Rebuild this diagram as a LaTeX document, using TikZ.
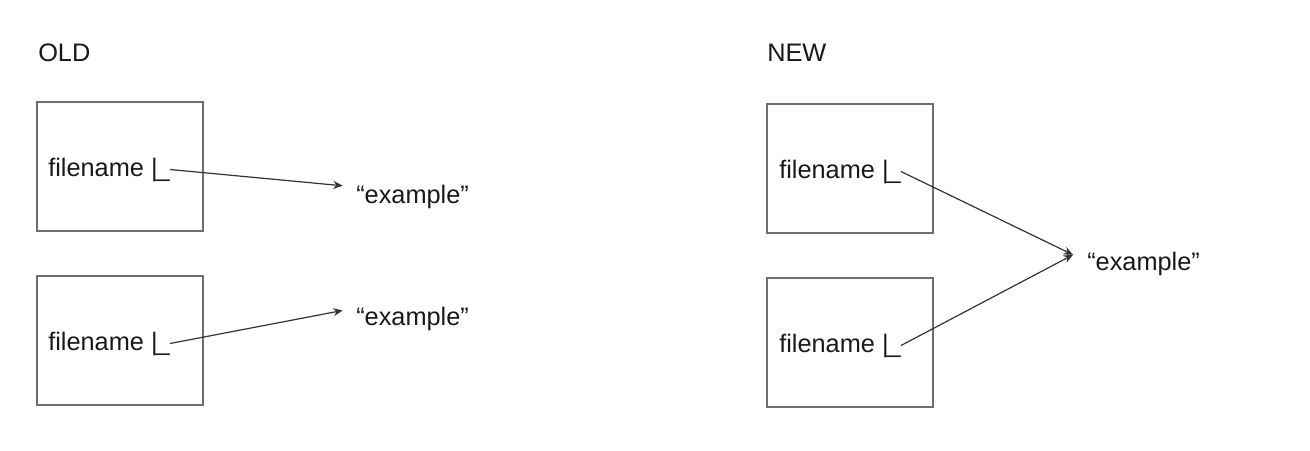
\documentclass[tikz,border=0pt]{standalone}
\usepackage{fontspec}
\setmainfont{Liberation Sans}
\usetikzlibrary{arrows.meta}
\definecolor{boxgray}{HTML}{6E6E6E}
\definecolor{linegray}{HTML}{333333}
\tikzset{
    box/.style={draw=boxgray, line width=1.1pt},
    txt/.style={anchor=base west, inner sep=0pt, font=\fontsize{19}{22}\selectfont, text=black!90},
    conn/.style={draw=linegray, line width=0.9pt, -{Stealth[length=7pt,width=6pt]}}
}
\begin{document}
\begin{tikzpicture}[x=0.75pt,y=-0.75pt]
                \useasboundingbox (0,0) rectangle (1310,450);
                \node[txt] (old) at (38,61) {OLD};
                \node[txt] (new) at (767,61) {NEW};
                \draw[box] (37,102) rectangle (203,231);
                \draw[box] (37,276) rectangle (203,405);
                \draw[box] (767,104) rectangle (933,233);
                \draw[box] (767,278) rectangle (933,407);
                \node[txt] (f1) at (48,176) {filename |\kern-1.5pt\_};
                \node[txt] (f2) at (48,350) {filename |\kern-1.5pt\_};
                \node[txt] (f3) at (779,178) {filename |\kern-1.5pt\_};
                \node[txt] (f4) at (779,352) {filename |\kern-1.5pt\_};
                \node[txt] (e1) at (356,203) {“example”};
                \node[txt] (e2) at (356,325) {“example”};
                \node[txt] (e3) at (1087,270) {“example”};
                \draw[conn] (f1.east) -- ([xshift=-10pt,yshift=8pt]e1.west);
                \draw[conn] (f2.east) -- ([xshift=-10pt,yshift=6pt]e2.west);
                \draw[conn] (f3.east) -- ([xshift=-10.5pt,yshift=6.5pt]e3.west);
                \draw[conn] (f4.east) -- ([xshift=-10.5pt,yshift=6.5pt]e3.west);
            \end{tikzpicture}
\end{document}
